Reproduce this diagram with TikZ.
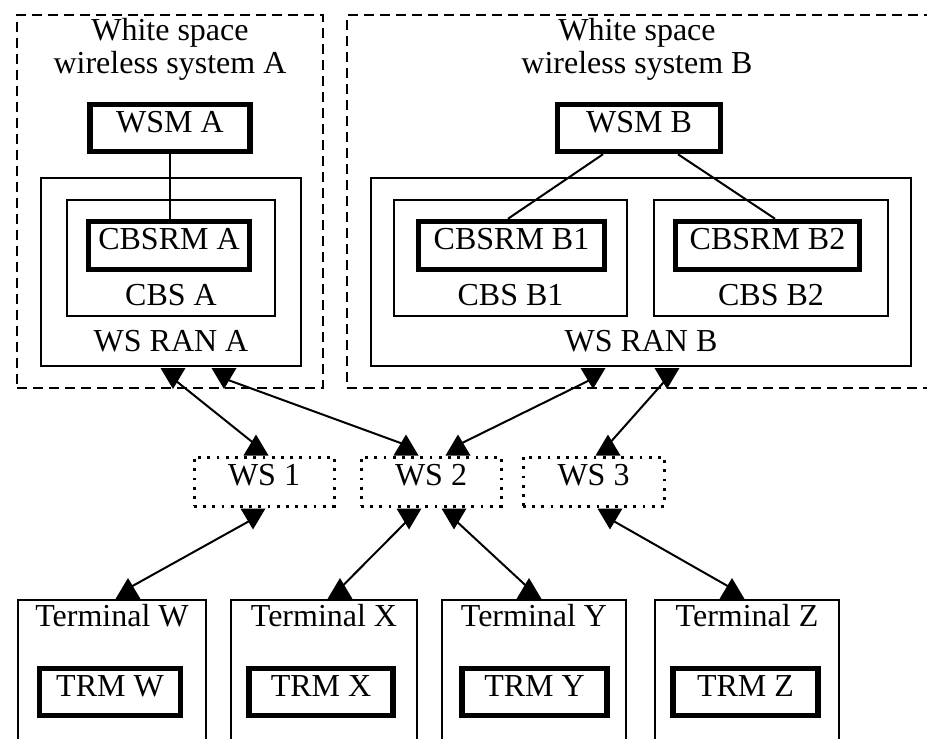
\documentclass[tikz,border=0pt]{standalone}
\usepackage{fontspec}
\setmainfont{Liberation Serif}
\usetikzlibrary{calc}
\tikzset{
  tridown/.pic={\fill (-12.5,-10.5) -- (12.5,-10.5) -- (0,10.5) -- cycle;},
  triup/.pic={\fill (-12.5,10.5) -- (12.5,10.5) -- (0,-10.5) -- cycle;}
}

\begin{document}
\begin{tikzpicture}[x=0.5pt,y=-0.5pt,
  font=\fontsize{16}{16.5}\selectfont,
  every node/.style={inner sep=0pt},
  sysbox/.style={draw,line width=1.3pt,dash pattern=on 5pt off 3pt},
  plainbox/.style={draw,line width=1pt},
  mgrbox/.style={draw,line width=2.75pt,text height=11pt,text depth=7pt},
  wsbox/.style={draw,line width=1.5pt,dash pattern=on 1.4pt off 3.2pt,text height=11pt,text depth=7pt},
  link/.style={line width=1pt}]
  \path[use as bounding box,clip] (0,0) rectangle (927,739);
  % systems
  \node[sysbox,minimum width=153pt,minimum height=186.5pt] (sysA) at (170,201.5) {};
  \node[sysbox,minimum width=301.5pt,minimum height=186.5pt] (sysB) at (648.5,201.5) {};
  \node[align=center,anchor=base] (titleA) at (170,73) {White space\\wireless system A};
  \node[align=center,anchor=base] (titleB) at (637,73) {White space\\wireless system B};
  \node[mgrbox,minimum width=80pt,minimum height=23.5pt] (wsmA) at (170,128) {WSM A};
  \node[mgrbox,minimum width=81.5pt,minimum height=23.5pt] (wsmB) at (639,128) {WSM B};
  % radio access networks
  \node[plainbox,minimum width=130pt,minimum height=94pt] (ranA) at (171,272) {};
  \node[plainbox,minimum width=104pt,minimum height=58pt] (cbsA) at (171,258) {};
  \node[mgrbox,minimum width=80.5pt,minimum height=24pt] (cbsrmA) at (169,245.5) {CBSRM A};
  \node[anchor=base] (cbsAlbl) at ($(cbsA.south)+(0,-12)$) {CBS A};
  \node[anchor=base] (ranAlbl) at ($(ranA.south)+(0,-16)$) {WS RAN A};
  \node[plainbox,minimum width=270pt,minimum height=94pt] (ranB) at (641,272) {};
  \node[plainbox,minimum width=116.5pt,minimum height=58pt] (cbsB1) at (510.5,258) {};
  \node[plainbox,minimum width=117pt,minimum height=58pt] (cbsB2) at (771,258) {};
  \node[mgrbox,minimum width=93pt,minimum height=24pt] (cbsrmB1) at (511.5,245.5) {CBSRM B1};
  \node[mgrbox,minimum width=92pt,minimum height=24pt] (cbsrmB2) at (767.5,245.5) {CBSRM B2};
  \node[anchor=base] (cbsB1lbl) at ($(cbsB1.south)+(0,-12)$) {CBS B1};
  \node[anchor=base] (cbsB2lbl) at ($(cbsB2.south)+(0,-12)$) {CBS B2};
  \node[anchor=base] (ranBlbl) at ($(ranB.south)+(0,-16)$) {WS RAN B};
  % white spaces
  \node[wsbox,minimum width=70pt,minimum height=24.5pt] (ws1) at (264,481.5) {WS 1};
  \node[wsbox,minimum width=70pt,minimum height=24.5pt] (ws2) at (431,481.5) {WS 2};
  \node[wsbox,minimum width=70.5pt,minimum height=24.5pt] (ws3) at (593.5,481.5) {WS 3};
  % terminals
  \node[plainbox,minimum width=94pt,minimum height=100pt] (termW) at (112,700) {};
  \node[plainbox,minimum width=93pt,minimum height=100pt] (termX) at (324,700) {};
  \node[plainbox,minimum width=92pt,minimum height=100pt] (termY) at (534,700) {};
  \node[plainbox,minimum width=92pt,minimum height=100pt] (termZ) at (747,700) {};
  \node[anchor=base] (termWlbl) at ($(termW.north)+(0,27)$) {Terminal W};
  \node[anchor=base] (termXlbl) at ($(termX.north)+(0,27)$) {Terminal X};
  \node[anchor=base] (termYlbl) at ($(termY.north)+(0,27)$) {Terminal Y};
  \node[anchor=base] (termZlbl) at ($(termZ.north)+(0,27)$) {Terminal Z};
  \node[mgrbox,minimum width=70.5pt,minimum height=23.5pt] (trmW) at (110,692) {TRM W};
  \node[mgrbox,minimum width=72pt,minimum height=23.5pt] (trmX) at (321,692) {TRM X};
  \node[mgrbox,minimum width=72.5pt,minimum height=23.5pt] (trmY) at (534.5,692) {TRM Y};
  \node[mgrbox,minimum width=72.5pt,minimum height=23.5pt] (trmZ) at (745.5,692) {TRM Z};
  % manager links
  \draw[link] (wsmA.south) -- (wsmA.south |- cbsrmA.north);
  \draw[link] ($(wsmB.south)+(-36,0)$) -- ($(cbsrmB1.north)+(-3.5,0)$);
  \draw[link] ($(wsmB.south)+(39,0)$) -- ($(cbsrmB2.north)+(7.5,0)$);
  % radio links
  \coordinate (ra1) at ($(ranA.south)+(2,11.5)$);
  \coordinate (ra2) at ($(ranA.south)+(53,11.5)$);
  \coordinate (rb1) at ($(ranB.south)+(-48,11.5)$);
  \coordinate (rb2) at ($(ranB.south)+(26,11.5)$);
  \coordinate (w1t) at ($(ws1.north)+(-8,-10.5)$);
  \coordinate (w2ta) at ($(ws2.north)+(-25,-10.5)$);
  \coordinate (w2tb) at ($(ws2.north)+(27,-10.5)$);
  \coordinate (w3t) at ($(ws3.north)+(14.5,-10.5)$);
  \coordinate (w1b) at ($(ws1.south)+(-11,11.5)$);
  \coordinate (w2ba) at ($(ws2.south)+(-22,11.5)$);
  \coordinate (w2bb) at ($(ws2.south)+(23,11.5)$);
  \coordinate (w3b) at ($(ws3.south)+(16.5,11.5)$);
  \coordinate (tw) at ($(termW.north)+(16,-10.5)$);
  \coordinate (tx) at ($(termX.north)+(16,-10.5)$);
  \coordinate (ty) at ($(termY.north)+(-5,-10.5)$);
  \coordinate (tz) at ($(termZ.north)+(-15,-10.5)$);
  \draw[link] (ra1) -- (w1t);
  \draw[link] (ra2) -- (w2ta);
  \draw[link] (rb1) -- (w2tb);
  \draw[link] (rb2) -- (w3t);
  \draw[link] (w1b) -- (tw);
  \draw[link] (w2ba) -- (tx);
  \draw[link] (w2bb) -- (ty);
  \draw[link] (w3b) -- (tz);
  \foreach \c in {ra1,ra2,rb1,rb2,w1b,w2ba,w2bb,w3b} \pic at (\c) {tridown};
  \foreach \c in {w1t,w2ta,w2tb,w3t,tw,tx,ty,tz} \pic at (\c) {triup};
\end{tikzpicture}
\end{document}
